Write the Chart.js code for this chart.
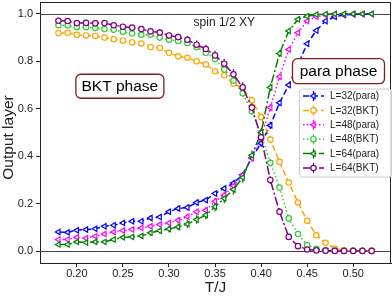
<!DOCTYPE html>
<html>
<head>
<meta charset="utf-8">
<script src="https://cdn.jsdelivr.net/npm/chart.js@4.4.1/dist/chart.umd.min.js"></script>
<style>
html,body{margin:0;padding:0;background:#fff;}
#c{display:block;}
</style>
</head>
<body>
<canvas id="c" width="392" height="297"></canvas>
<script>
// ---------- data ----------
const temps = [0.18,0.19,0.20,0.21,0.22,0.23,0.24,0.25,0.26,0.27,0.28,0.29,0.30,0.31,0.32,0.33,0.34,0.35,0.36,0.37,0.38,0.39,0.40,0.41,0.42,0.43,0.44,0.45,0.46,0.47,0.48,0.49,0.50,0.51,0.52];

const l32Para = [0.081,0.079,0.088,0.091,0.094,0.105,0.109,0.119,0.126,0.126,0.140,0.144,0.166,0.180,0.184,0.205,0.215,0.243,0.264,0.287,0.322,0.395,0.455,0.530,0.625,0.700,0.786,0.874,0.930,0.970,0.988,0.995,0.998,0.999,0.999];
const l32BKT  = [0.919,0.920,0.912,0.909,0.907,0.900,0.893,0.887,0.880,0.875,0.860,0.856,0.836,0.821,0.815,0.800,0.787,0.758,0.741,0.706,0.686,0.636,0.565,0.470,0.376,0.289,0.205,0.128,0.067,0.035,0.011,0.004,0.002,0.001,0.001];
const l48Para = [0.049,0.049,0.058,0.054,0.063,0.072,0.081,0.087,0.091,0.098,0.105,0.112,0.119,0.130,0.145,0.166,0.172,0.210,0.236,0.275,0.320,0.392,0.480,0.605,0.735,0.850,0.920,0.970,0.988,0.995,0.998,0.999,1.000,1.000,1.000];
const l48BKT  = [0.952,0.952,0.944,0.944,0.940,0.936,0.933,0.925,0.917,0.912,0.912,0.900,0.891,0.886,0.877,0.860,0.836,0.810,0.765,0.718,0.665,0.590,0.490,0.372,0.268,0.138,0.072,0.025,0.010,0.004,0.002,0.001,0.001,0.001,0.001];
const l64Para = [0.028,0.028,0.039,0.036,0.039,0.039,0.049,0.058,0.060,0.064,0.077,0.086,0.093,0.102,0.114,0.133,0.152,0.187,0.222,0.260,0.310,0.404,0.500,0.690,0.833,0.928,0.977,0.990,0.997,0.999,1.000,1.000,1.000,1.000,1.000];
const l64BKT  = [0.971,0.970,0.961,0.962,0.960,0.961,0.952,0.946,0.942,0.936,0.926,0.921,0.909,0.902,0.891,0.870,0.852,0.825,0.790,0.745,0.690,0.605,0.480,0.300,0.166,0.060,0.021,0.007,0.003,0.002,0.001,0.001,0.001,0.001,0.001];

// error bar half-widths
const err32Para = [0.005,0.005,0.008,0.008,0.007,0.006,0.007,0.008,0.007,0.006,0.010,0.008,0.010,0.012,0.012,0.012,0.010,0.008,0.012,0.010,0.010,0.012,0.015,0.015,0.012,0.010,0.010,0.008,0.006,0.005,0.004,0.003,0.002,0.002,0.002];
const err32BKT  = [0.005,0.005,0.007,0.006,0.006,0.006,0.007,0.006,0.007,0.006,0.008,0.010,0.008,0.010,0.012,0.012,0.010,0.010,0.012,0.012,0.012,0.014,0.015,0.015,0.012,0.010,0.010,0.008,0.006,0.005,0.004,0.003,0.002,0.002,0.002];
const err48Para = [0.005,0.005,0.007,0.008,0.007,0.007,0.008,0.008,0.008,0.008,0.010,0.010,0.010,0.012,0.012,0.012,0.014,0.014,0.014,0.014,0.014,0.015,0.015,0.015,0.012,0.010,0.008,0.006,0.005,0.004,0.003,0.002,0.002,0.002,0.002];
const err48BKT  = [0.005,0.005,0.006,0.006,0.006,0.006,0.007,0.007,0.008,0.008,0.008,0.010,0.010,0.010,0.012,0.012,0.012,0.014,0.014,0.014,0.015,0.015,0.015,0.015,0.012,0.010,0.008,0.006,0.005,0.004,0.003,0.002,0.002,0.002,0.002];
const err64Para = [0.005,0.005,0.007,0.008,0.008,0.008,0.010,0.010,0.010,0.010,0.012,0.012,0.014,0.014,0.016,0.018,0.018,0.020,0.020,0.022,0.022,0.020,0.018,0.016,0.014,0.010,0.008,0.006,0.005,0.004,0.003,0.002,0.002,0.002,0.002];
const err64BKT  = [0.006,0.006,0.008,0.008,0.008,0.008,0.010,0.010,0.010,0.010,0.012,0.014,0.014,0.014,0.016,0.018,0.018,0.020,0.020,0.022,0.022,0.020,0.018,0.016,0.014,0.010,0.008,0.006,0.005,0.004,0.003,0.002,0.002,0.002,0.002];

const seriesLabels = ['L=32(para)','L=32(BKT)','L=48(para)','L=48(BKT)','L=64(para)','L=64(BKT)'];
const xTicks = [0.20,0.25,0.30,0.35,0.40,0.45,0.50];
const xTickLabels = ['0.20','0.25','0.30','0.35','0.40','0.45','0.50'];
const yTicks = [0.0,0.2,0.4,0.6,0.8,1.0];
const yTickLabels = ['0.0','0.2','0.4','0.6','0.8','1.0'];
const xTitle = 'T/J';
const yTitle = 'Output layer';
const noteText = 'spin 1/2 XY';
const bktText = 'BKT phase';
const paraText = 'para phase';

// ---------- styling ----------
const FONT = '"Liberation Sans", Arial, Helvetica, sans-serif';
const colors = ['#0000ff','#ffa500','#ff00ff','#32cd32','#008000','#800080'];
const dashes = [[6,3],[6,3],[1.5,2.5],[1.5,2.5],[9,2.5,2,2.5],[9,2.5,2,2.5]];
const isPara = [true,false,true,false,true,false];
const values = [l32Para,l32BKT,l48Para,l48BKT,l64Para,l64BKT];
const errs = [err32Para,err32BKT,err48Para,err48BKT,err64Para,err64BKT];
const TRI_R = 3.1, CIR_R = 2.7;

const datasets = values.map((vals,i)=>({
  label: seriesLabels[i],
  data: temps.map((t,k)=>({x:t,y:vals[k]})),
  errors: errs[i],
  borderColor: colors[i],
  backgroundColor: '#ffffff',
  borderWidth: 1.5,
  borderDash: dashes[i],
  pointStyle: isPara[i] ? 'triangle' : 'circle',
  pointRotation: isPara[i] ? -90 : 0,
  pointRadius: isPara[i] ? TRI_R : CIR_R,
  pointBorderWidth: 1.2,
  pointBorderColor: colors[i],
  pointBackgroundColor: '#ffffff',
  tension: 0,
  fill: false,
  clip: false,
  order: 6 - i
}));

function drawPointMarker(ctx, i, x, y){
  ctx.save();
  ctx.setLineDash([]);
  ctx.strokeStyle = colors[i];
  ctx.fillStyle = '#fff';
  ctx.lineWidth = 1.2;
  if(isPara[i]){
    Chart.helpers.drawPoint(ctx,{pointStyle:'triangle',rotation:-90,radius:TRI_R,borderWidth:1.2},x,y);
  } else {
    ctx.beginPath(); ctx.arc(x,y,CIR_R,0,Math.PI*2); ctx.fill(); ctx.stroke();
  }
  ctx.restore();
}

const decor = {
  id:'decor',
  beforeDatasetsDraw(chart){
    const {ctx, chartArea:a, scales:{x,y}} = chart;
    ctx.save();
    ctx.strokeStyle = '#444'; ctx.lineWidth = 1;
    [0,1].forEach(v=>{
      const py = Math.round(y.getPixelForValue(v))+0.5;
      ctx.beginPath(); ctx.moveTo(a.left,py); ctx.lineTo(a.right,py); ctx.stroke();
    });
    chart.data.datasets.forEach((ds,i)=>{
      ctx.strokeStyle = colors[i]; ctx.lineWidth = 1.3; ctx.setLineDash([]);
      ds.data.forEach((p,k)=>{
        const e = ds.errors[k];
        const px = x.getPixelForValue(p.x);
        ctx.beginPath();
        ctx.moveTo(px, y.getPixelForValue(p.y - e));
        ctx.lineTo(px, y.getPixelForValue(p.y + e));
        ctx.stroke();
      });
    });
    ctx.restore();
  },
  afterDraw(chart){
    const {ctx, chartArea:a, scales:{x,y}} = chart;
    ctx.save();
    // top & right spines
    ctx.strokeStyle = '#222'; ctx.lineWidth = 1;
    ctx.beginPath();
    ctx.moveTo(a.left, a.top+0.5); ctx.lineTo(a.right-0.5, a.top+0.5); ctx.lineTo(a.right-0.5, a.bottom);
    ctx.stroke();

    // tick labels
    ctx.fillStyle = '#222';
    ctx.font = '11px ' + FONT;
    ctx.textAlign = 'right'; ctx.textBaseline = 'middle';
    yTicks.forEach((v,k)=> ctx.fillText(yTickLabels[k], a.left - 7, y.getPixelForValue(v)));
    ctx.textAlign = 'center'; ctx.textBaseline = 'middle';
    xTicks.forEach((v,k)=> ctx.fillText(xTickLabels[k], x.getPixelForValue(v), a.bottom + 11));

    // axis titles
    ctx.font = '15.5px ' + FONT;
    ctx.fillText(xTitle, (a.left+a.right)/2, 288);
    ctx.save();
    ctx.translate(8.5, 137.5);
    ctx.rotate(-Math.PI/2);
    ctx.fillText(yTitle, 0, 0);
    ctx.restore();

    ctx.font = '12px ' + FONT;
    ctx.fillText(noteText, x.getPixelForValue(0.360), y.getPixelForValue(0.961));

    function box(text, cx, cy, w, h){
      ctx.save();
      ctx.beginPath();
      ctx.roundRect(cx-w/2, cy-h/2, w, h, 5);
      ctx.fillStyle = '#fff'; ctx.fill();
      ctx.strokeStyle = '#8b1a1a'; ctx.lineWidth = 1.3; ctx.stroke();
      ctx.fillStyle = '#000';
      ctx.font = '15.5px ' + FONT;
      ctx.textAlign = 'center'; ctx.textBaseline = 'middle';
      ctx.fillText(text, cx, cy+0.5);
      ctx.restore();
    }
    box(bktText, x.getPixelForValue(0.2467), y.getPixelForValue(0.695), 88, 24);
    box(paraText, x.getPixelForValue(0.484), y.getPixelForValue(0.7585), 92, 25);

    // legend
    const lx = 299, ly = 88.5, lw = 92, lh = 88;
    ctx.beginPath();
    ctx.roundRect(lx+0.5, ly+0.5, lw, lh, 3);
    ctx.fillStyle = 'rgba(255,255,255,0.85)'; ctx.fill();
    ctx.strokeStyle = '#cccccc'; ctx.lineWidth = 1; ctx.stroke();
    ctx.font = '10px ' + FONT;
    ctx.textAlign = 'left'; ctx.textBaseline = 'middle';
    seriesLabels.forEach((lab,i)=>{
      const ry = 96 + i*14.4;
      ctx.save();
      ctx.strokeStyle = colors[i]; ctx.lineWidth = 1.5; ctx.setLineDash(dashes[i]);
      ctx.beginPath(); ctx.moveTo(303, ry); ctx.lineTo(324, ry); ctx.stroke();
      ctx.setLineDash([]); ctx.lineWidth = 1.3;
      ctx.beginPath(); ctx.moveTo(313.5, ry-5); ctx.lineTo(313.5, ry+5); ctx.stroke();
      ctx.restore();
      drawPointMarker(ctx, i, 313.5, ry);
      ctx.fillStyle = '#222';
      ctx.fillText(lab, 330, ry+0.5);
    });
    ctx.restore();
  }
};

new Chart(document.getElementById('c'), {
  type: 'line',
  data: { datasets },
  options: {
    responsive: false,
    devicePixelRatio: 1,
    animation: false,
    layout: { autoPadding: false, padding: { top: 2, right: 1, left: 0, bottom: 0 } },
    plugins: { legend: { display: false }, tooltip: { enabled: false } },
    scales: {
      x: {
        type: 'linear', min: 0.16, max: 0.541,
        afterFit: s => { s.height = 34; s.paddingLeft = 0; s.paddingRight = 0; },
        afterBuildTicks: s => { s.ticks = xTicks.map(v=>({value:v})); },
        ticks: { display: false },
        grid: { drawOnChartArea: false, drawTicks: true, tickLength: 4, color: '#222' },
        border: { display: true, color: '#222', width: 1 }
      },
      y: {
        type: 'linear', min: -0.05, max: 1.05,
        afterFit: s => { s.width = 40; s.paddingTop = 0; s.paddingBottom = 0; },
        afterBuildTicks: s => { s.ticks = yTicks.map(v=>({value:v})); },
        ticks: { display: false },
        grid: { drawOnChartArea: false, drawTicks: true, tickLength: 4, color: '#222' },
        border: { display: true, color: '#222', width: 1 }
      }
    }
  },
  plugins: [decor]
});
</script>
</body>
</html>
